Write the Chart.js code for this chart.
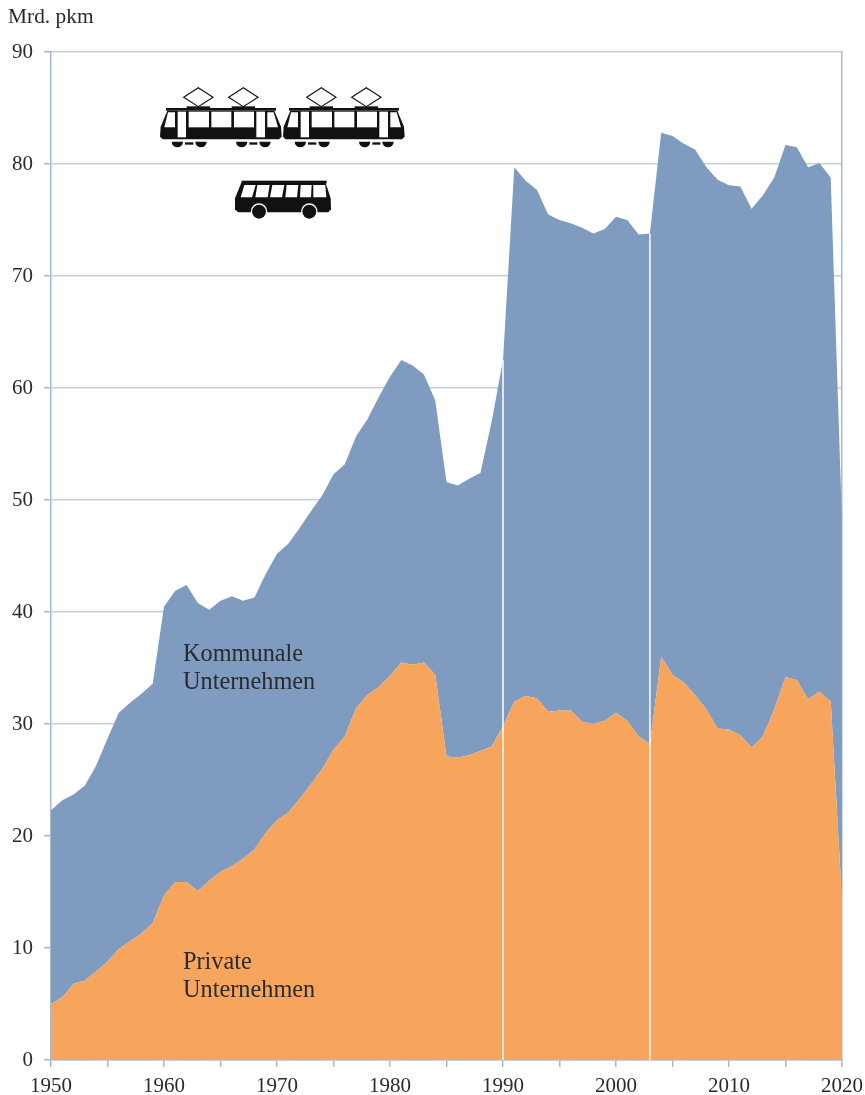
<!DOCTYPE html>
<html>
<head>
<meta charset="utf-8">
<title>Mrd. pkm</title>
<script src="https://cdn.jsdelivr.net/npm/chart.js@4/dist/chart.umd.min.js"></script>
<style>
body { margin: 0; background: #fff; }
canvas { display: block; }
</style>
</head>
<body>
<canvas id="myChart" width="865" height="1095"></canvas>
<script>
var startYear = 1950;
// 1950 ... 2020, one value per year
var privateValues = [
    5.0, 5.6, 6.8, 7.1, 7.9, 8.8, 9.9, 10.6, 11.3, 12.2,
    14.7, 15.9, 15.9, 15.1, 16.0, 16.8, 17.3, 18.0, 18.8, 20.3,
    21.4, 22.1, 23.3, 24.6, 26.0, 27.7, 28.9, 31.4, 32.6, 33.3,
    34.3, 35.5, 35.3, 35.5, 34.4, 27.1, 27.0, 27.2, 27.6, 28.0,
    29.8, 32.0, 32.5, 32.3, 31.1, 31.2, 31.2, 30.2, 30.0, 30.3,
    31.0, 30.3, 28.9, 28.2, 36.0, 34.4, 33.7, 32.6, 31.3, 29.6,
    29.5, 29.0, 27.9, 28.9, 31.3, 34.2, 33.9, 32.2, 32.9, 32.0,
    14.3
];
// upper edge of the blue area (private + kommunale)
var totalValues = [
    22.3, 23.2, 23.7, 24.5, 26.3, 28.7, 31.0, 31.9, 32.7, 33.6,
    40.5, 41.9, 42.4, 40.8, 40.2, 41.0, 41.4, 41.0, 41.3, 43.4,
    45.2, 46.1, 47.5, 49.0, 50.4, 52.3, 53.2, 55.7, 57.2, 59.2,
    61.0, 62.5, 62.0, 61.2, 58.9, 51.6, 51.3, 51.9, 52.4, 57.0,
    62.5, 79.7, 78.5, 77.7, 75.5, 75.0, 74.7, 74.3, 73.8, 74.2,
    75.3, 75.0, 73.7, 73.8, 82.8, 82.5, 81.8, 81.3, 79.7, 78.6,
    78.1, 78.0, 76.0, 77.2, 78.8, 81.7, 81.5, 79.7, 80.1, 78.8,
    48.0
];
var breakYears = [1990, 2003];

var textColor = '#2b2a2b';
var axisColor = '#a6bacb';
var gridColor = '#c3d3dc';
var serif = '"Liberation Serif"';

function toPoints(values) {
    return values.map(function (v, i) {
        return { x: startYear + i, y: v };
    });
}

var datasets = breakYears.map(function (year) {
    return {
        label: 'Bruch ' + year,
        data: [{ x: year, y: 0 }, { x: year, y: totalValues[year - startYear] }],
        borderColor: '#ffffff',
        borderWidth: 1.5,
        pointRadius: 0,
        fill: false,
        order: 0
    };
});
datasets.push({
    label: 'Private Unternehmen',
    data: toPoints(privateValues),
    backgroundColor: '#f7a55c',
    borderWidth: 0,
    pointRadius: 0,
    tension: 0,
    fill: 'origin',
    order: 1
});
datasets.push({
    label: 'Kommunale Unternehmen',
    data: toPoints(totalValues),
    backgroundColor: '#7f9cc0',
    borderWidth: 0,
    pointRadius: 0,
    tension: 0,
    fill: '-1',
    order: 2
});

// pictograms, drawn in a 3x grid so the shapes stay readable
function poly(ctx, pts, color) {
    ctx.fillStyle = color;
    ctx.beginPath();
    pts.forEach(function (p, i) {
        if (i === 0) ctx.moveTo(p[0], p[1]); else ctx.lineTo(p[0], p[1]);
    });
    ctx.closePath();
    ctx.fill();
}

function rect(ctx, x1, y1, x2, y2, color) {
    ctx.fillStyle = color;
    ctx.fillRect(x1, y1, x2 - x1, y2 - y1);
}

function drawTram(ctx, dx) {
    ctx.save();
    ctx.translate(dx, 0);
    // pantographs
    ctx.strokeStyle = '#111';
    ctx.lineWidth = 3.5;
    [175, 310].forEach(function (cx) {
        ctx.beginPath();
        ctx.moveTo(cx, 53);
        ctx.lineTo(cx + 44, 82);
        ctx.lineTo(cx, 110);
        ctx.lineTo(cx - 44, 82);
        ctx.closePath();
        ctx.stroke();
    });
    rect(ctx, 140, 109, 210, 116, '#111');
    rect(ctx, 275, 109, 345, 116, '#111');
    rect(ctx, 78, 114, 408, 122, '#111');
    // body
    poly(ctx, [[82, 122], [62, 170], [60, 200], [68, 208], [417, 208], [425, 200], [423, 170], [403, 122]], '#111');
    // windows and doors
    poly(ctx, [[84, 127], [105, 127], [105, 172], [73, 172]], '#fff');
    poly(ctx, [[382, 127], [401, 127], [414, 172], [382, 172]], '#fff');
    rect(ctx, 113, 125, 138, 202, '#fff');
    rect(ctx, 349, 125, 375, 202, '#fff');
    rect(ctx, 146, 125, 207, 172, '#fff');
    rect(ctx, 214, 125, 274, 172, '#fff');
    rect(ctx, 282, 125, 342, 172, '#fff');
    // bogies
    ctx.fillStyle = '#111';
    [112, 183, 305, 375].forEach(function (cx) {
        ctx.beginPath();
        ctx.arc(cx, 215, 17, 0, Math.PI);
        ctx.closePath();
        ctx.fill();
    });
    rect(ctx, 135, 217, 160, 224, '#111');
    rect(ctx, 328, 217, 352, 224, '#111');
    ctx.restore();
}

function drawBus(ctx) {
    rect(ctx, 305, 332, 560, 340, '#111');
    poly(ctx, [[305, 336], [285, 385], [285, 418], [294, 427], [565, 427], [573, 418], [572, 385], [556, 336]], '#111');
    var tops = [313, 352, 397, 440, 482, 520];
    var bottoms = [302, 346, 390, 436, 480, 520];
    var widths = [34, 37, 36, 35, 33, 36];
    tops.forEach(function (t, i) {
        poly(ctx, [[t, 345], [t + widths[i], 345], [bottoms[i] + widths[i] + (i === 5 ? 3 : 0), 382], [bottoms[i], 382]], '#fff');
    });
    [357, 508].forEach(function (cx) {
        ctx.fillStyle = '#fff';
        ctx.beginPath();
        ctx.arc(cx, 425, 25, 0, Math.PI * 2);
        ctx.fill();
        ctx.fillStyle = '#111';
        ctx.beginPath();
        ctx.arc(cx, 425, 21, 0, Math.PI * 2);
        ctx.fill();
    });
}

var annotations = {
    id: 'annotations',
    afterDraw: function (chart) {
        var ctx = chart.ctx;
        ctx.save();
        ctx.fillStyle = textColor;
        ctx.textAlign = 'left';
        ctx.textBaseline = 'alphabetic';
        ctx.font = '21.4px ' + serif;
        ctx.fillText('Mrd. pkm', 8, 23);
        ctx.font = '24.3px ' + serif;
        ctx.fillText('Kommunale', 183, 661);
        ctx.fillText('Unternehmen', 183, 689);
        ctx.fillText('Private', 183, 969);
        ctx.fillText('Unternehmen', 183, 997);

        ctx.translate(140, 70);
        ctx.scale(1 / 3, 1 / 3);
        drawTram(ctx, 0);
        drawTram(ctx, 369);
        drawBus(ctx);
        ctx.restore();
    }
};

var ctx = document.getElementById('myChart').getContext('2d');
var chart = new Chart(ctx, {
    type: 'line',
    data: { datasets: datasets },
    plugins: [annotations],
    options: {
        responsive: false,
        animation: false,
        layout: { padding: { top: 52, right: 23, left: 0, bottom: 0 } },
        plugins: {
            legend: { display: false },
            tooltip: { enabled: false }
        },
        scales: {
            x: {
                type: 'linear',
                min: 1950,
                max: 2020,
                afterFit: function (scale) {
                    scale.height = 35;
                    scale.paddingLeft = 0;
                    scale.paddingRight = 0;
                },
                border: { color: axisColor, width: 1.5 },
                grid: { drawOnChartArea: false, color: axisColor, tickLength: 7, lineWidth: 1.5 },
                ticks: {
                    stepSize: 5,
                    maxRotation: 0,
                    autoSkip: false,
                    padding: 7,
                    color: textColor,
                    font: { family: serif, size: 21 },
                    callback: function (v) { return v % 10 === 0 ? String(v) : ''; }
                }
            },
            y: {
                min: 0,
                max: 90,
                afterFit: function (scale) { scale.width = 51; },
                border: { color: axisColor, width: 1.5 },
                grid: { color: gridColor, tickColor: axisColor, tickLength: 7, lineWidth: 1.5 },
                ticks: {
                    stepSize: 10,
                    padding: 11,
                    color: textColor,
                    font: { family: serif, size: 21 }
                }
            },
            right: {
                position: 'right',
                min: 0,
                max: 90,
                afterFit: function (scale) { scale.width = 0; },
                border: { color: axisColor, width: 1.5 },
                grid: { display: false },
                ticks: { display: false }
            }
        }
    }
});
</script>
</body>
</html>
